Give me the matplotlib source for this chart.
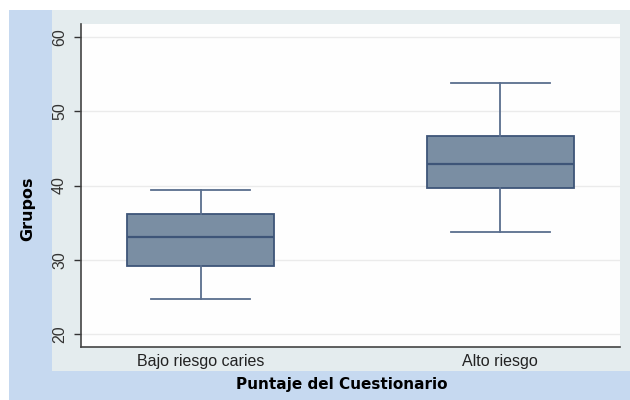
import matplotlib
matplotlib.use('Agg')
import matplotlib.pyplot as plt
from matplotlib.patches import Rectangle

# box summaries per group
groups = ['Bajo riesgo caries', 'Alto riesgo']
whislo = [24.75, 33.7]
q1 = [29.1, 39.6]
med = [33.0, 42.95]
q3 = [36.2, 46.7]
whishi = [39.4, 53.8]
yticks = [20, 30, 40, 50, 60]

fig = plt.figure(figsize=(6.3, 4.0), dpi=100, facecolor='white')

# outer frame bands
fig.patches.append(Rectangle((9/630, 0), 1, 390/400, transform=fig.transFigure,
                             facecolor='#c6d9f0', edgecolor='none', zorder=-2))
fig.patches.append(Rectangle((52/630, 29/400), 1, 361/400, transform=fig.transFigure,
                             facecolor='#e4ecee', edgecolor='none', zorder=-1))

ax = fig.add_axes([81/630, 53/400, 539/630, 323/400])
ax.set_facecolor('#fefefe')

stats = []
for lab, lo, a, m, b, hi in zip(groups, whislo, q1, med, q3, whishi):
    stats.append(dict(label=lab, whislo=lo, q1=a, med=m, q3=b, whishi=hi, fliers=[]))

edge = '#3e5578'
ax.bxp(stats, positions=[1, 2], widths=0.49, capwidths=0.33, patch_artist=True,
       showfliers=False,
       boxprops=dict(facecolor='#7a8ea3', edgecolor=edge, linewidth=1.3),
       medianprops=dict(color=edge, linewidth=1.6),
       whiskerprops=dict(color='#5a6e8e', linewidth=1.3),
       capprops=dict(color='#5a6e8e', linewidth=1.3))

ax.set_xlim(0.6, 2.4)
ax.set_ylim(18.25, 61.75)
ax.set_yticks(yticks)
ax.set_yticklabels([str(t) for t in yticks], rotation=90, va='center',
                   fontsize=11.5, family='Liberation Sans', color='#333333')
ax.set_xticklabels(groups, fontsize=11.5, family='Liberation Sans', color='#222222')
ax.tick_params(axis='x', length=0, pad=5)
ax.tick_params(axis='y', length=5, width=1, color='#333333', pad=5)

ax.grid(axis='y', color='#ebebeb', linewidth=1)
ax.set_axisbelow(True)
for s in ['top', 'right']:
    ax.spines[s].set_visible(False)
for s in ['left', 'bottom']:
    ax.spines[s].set_color('#444444')
    ax.spines[s].set_linewidth(1.2)

fig.text(342/630, (400-385)/400, 'Puntaje del Cuestionario', ha='center', va='center',
         fontsize=11, fontweight='bold', family='DejaVu Sans')
fig.text(28/630, (400-209)/400, 'Grupos', ha='center', va='center', rotation=90,
         fontsize=11.5, fontweight='bold', family='DejaVu Sans')

fig.savefig('out.png', dpi=100, facecolor=fig.get_facecolor())
